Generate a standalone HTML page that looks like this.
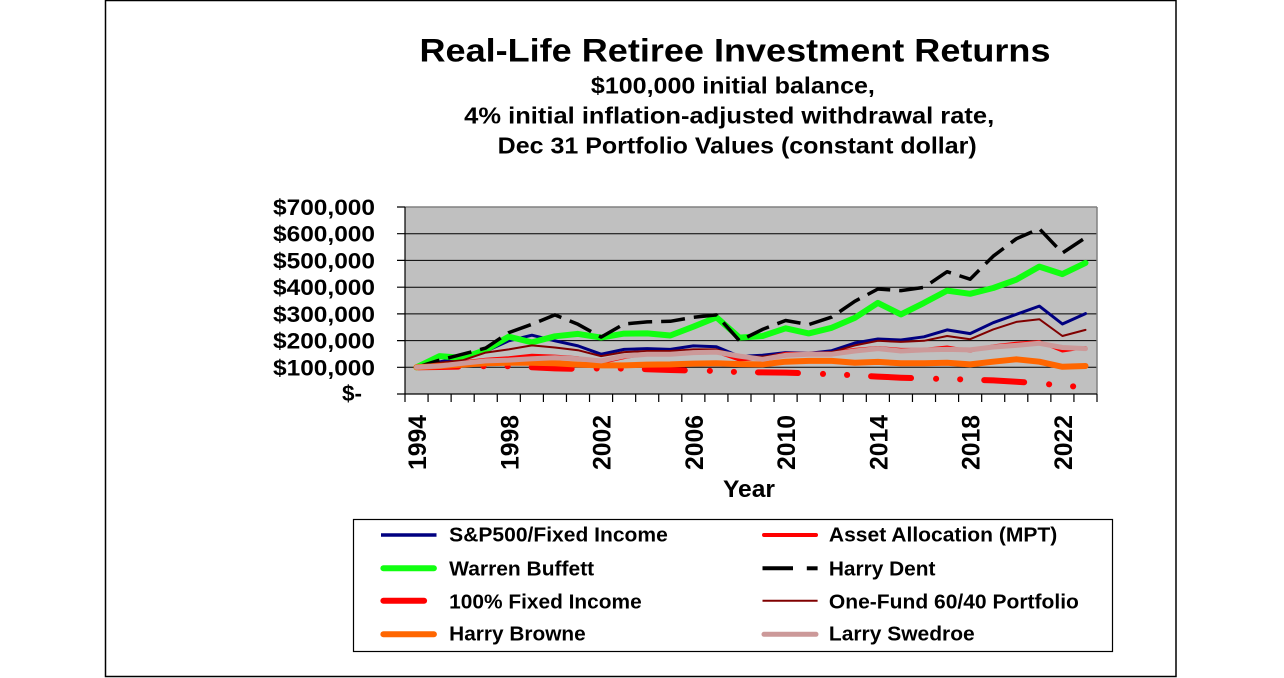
<!DOCTYPE html>
<html>
<head>
<meta charset="utf-8">
<style>
html,body{margin:0;padding:0;background:#fff;}
svg{display:block;}
text{font-family:"Liberation Sans",Arial,sans-serif;font-weight:bold;fill:#000;}
</style>
</head>
<body>
<svg width="1284" height="678" viewBox="0 0 1284 678" xmlns="http://www.w3.org/2000/svg">
<rect x="0" y="0" width="1284" height="678" fill="#fff"/>
<rect x="105.5" y="0.5" width="1070.5" height="676" fill="none" stroke="#000" stroke-width="1.5"/>

<!-- Titles -->
<text x="735" y="61.7" font-size="32.5" text-anchor="middle" textLength="631" lengthAdjust="spacingAndGlyphs">Real-Life Retiree Investment Returns</text>
<text x="732.9" y="93.3" font-size="23" text-anchor="middle" textLength="284" lengthAdjust="spacingAndGlyphs">$100,000 initial balance,</text>
<text x="729.2" y="123.3" font-size="23" text-anchor="middle" textLength="530" lengthAdjust="spacingAndGlyphs">4%  initial inflation-adjusted withdrawal rate,</text>
<text x="737.2" y="153.3" font-size="23" text-anchor="middle" textLength="479" lengthAdjust="spacingAndGlyphs">Dec 31 Portfolio Values (constant dollar)</text>

<!-- Plot area -->
<rect x="405" y="207" width="692" height="187" fill="#c0c0c0"/>
<g stroke="#000" stroke-width="1">
<line x1="405" y1="233.7" x2="1097" y2="233.7"/>
<line x1="405" y1="260.4" x2="1097" y2="260.4"/>
<line x1="405" y1="287.2" x2="1097" y2="287.2"/>
<line x1="405" y1="313.9" x2="1097" y2="313.9"/>
<line x1="405" y1="340.6" x2="1097" y2="340.6"/>
<line x1="405" y1="367.3" x2="1097" y2="367.3"/>
</g>
<line x1="405" y1="207" x2="1097" y2="207" stroke="#808080" stroke-width="1.5"/>
<line x1="1097" y1="207" x2="1097" y2="394" stroke="#808080" stroke-width="1.5"/>
<!-- axes -->
<line x1="405" y1="207" x2="405" y2="394" stroke="#000" stroke-width="1.2"/>
<line x1="397" y1="394" x2="1097" y2="394" stroke="#000" stroke-width="1.2"/>
<path stroke="#000" stroke-width="1.2" fill="none" d="M397 207H405 M397 233.7H405 M397 260.4H405 M397 287.2H405 M397 313.9H405 M397 340.6H405 M397 367.3H405
M405 394V402 M428.07 394V402 M451.13 394V402 M474.2 394V402 M497.27 394V402 M520.33 394V402 M543.4 394V402 M566.47 394V402 M589.53 394V402 M612.6 394V402 M635.67 394V402 M658.73 394V402 M681.8 394V402 M704.87 394V402 M727.93 394V402 M751 394V402 M774.07 394V402 M797.13 394V402 M820.2 394V402 M843.27 394V402 M866.33 394V402 M889.4 394V402 M912.47 394V402 M935.53 394V402 M958.6 394V402 M981.67 394V402 M1004.73 394V402 M1027.8 394V402 M1050.87 394V402 M1073.93 394V402 M1097 394V402"/>

<!-- Y labels -->
<g font-size="22" text-anchor="end">
<text x="375" y="215" textLength="102" lengthAdjust="spacingAndGlyphs">$700,000</text>
<text x="375" y="241.7" textLength="102" lengthAdjust="spacingAndGlyphs">$600,000</text>
<text x="375" y="268.4" textLength="102" lengthAdjust="spacingAndGlyphs">$500,000</text>
<text x="375" y="295.2" textLength="102" lengthAdjust="spacingAndGlyphs">$400,000</text>
<text x="375" y="321.9" textLength="102" lengthAdjust="spacingAndGlyphs">$300,000</text>
<text x="375" y="348.6" textLength="102" lengthAdjust="spacingAndGlyphs">$200,000</text>
<text x="375" y="375.3" textLength="102" lengthAdjust="spacingAndGlyphs">$100,000</text>
<text x="362" y="401" textLength="20" lengthAdjust="spacingAndGlyphs">$-</text>
</g>

<!-- X labels -->
<g font-size="25" text-anchor="end">
<text transform="translate(426,415) rotate(-90)" textLength="55" lengthAdjust="spacingAndGlyphs">1994</text>
<text transform="translate(518.3,415) rotate(-90)" textLength="55" lengthAdjust="spacingAndGlyphs">1998</text>
<text transform="translate(610.6,415) rotate(-90)" textLength="55" lengthAdjust="spacingAndGlyphs">2002</text>
<text transform="translate(702.8,415) rotate(-90)" textLength="55" lengthAdjust="spacingAndGlyphs">2006</text>
<text transform="translate(795.1,415) rotate(-90)" textLength="55" lengthAdjust="spacingAndGlyphs">2010</text>
<text transform="translate(887.4,415) rotate(-90)" textLength="55" lengthAdjust="spacingAndGlyphs">2014</text>
<text transform="translate(979.6,415) rotate(-90)" textLength="55" lengthAdjust="spacingAndGlyphs">2018</text>
<text transform="translate(1071.9,415) rotate(-90)" textLength="55" lengthAdjust="spacingAndGlyphs">2022</text>
</g>
<text x="749" y="497" font-size="24" text-anchor="middle" textLength="52" lengthAdjust="spacingAndGlyphs">Year</text>

<!-- Series -->
<g fill="none" stroke-linejoin="round">
<polyline stroke="#000080" stroke-width="3" stroke-linecap="round" points="416.5,367.3 439.6,361.9 462.6,357.9 485.7,351.3 508.8,340.8 531.9,335.2 554.9,340.8 578,345.9 601.1,354.2 624.1,349.4 647.2,348.6 670.3,349.4 693.3,345.9 716.4,346.7 739.5,356.4 762.5,355.3 785.6,352.6 808.7,353.4 831.7,350.7 854.8,343 877.9,339 900.9,340 924,336.8 947.1,329.9 970.1,333.6 993.2,322.7 1016.3,314.4 1039.3,306.1 1062.4,324 1085.5,313.6"/>
<polyline stroke="#ff0000" stroke-width="3" stroke-linecap="round" points="416.5,367.3 439.6,365.4 462.6,361.9 485.7,359.3 508.8,357.7 531.9,355.3 554.9,356.1 578,357.7 601.1,362.7 624.1,357.7 647.2,353.7 670.3,353.4 693.3,352.1 716.4,352.1 739.5,360.1 762.5,357.7 785.6,353.4 808.7,353.4 831.7,352.6 854.8,349.4 877.9,347.5 900.9,349.4 924,349.4 947.1,347 970.1,351 993.2,345.9 1016.3,343.3 1039.3,341.6 1062.4,351 1085.5,347.5"/>
<polyline stroke="#11ff11" stroke-width="6" stroke-linecap="round" points="416.5,367.3 439.6,356.1 462.6,357.9 485.7,349.9 508.8,336.6 531.9,342.4 554.9,336.3 578,333.9 601.1,337.6 624.1,333.6 647.2,333.4 670.3,335.5 693.3,326.7 716.4,317.3 739.5,337.6 762.5,336 785.6,328.3 808.7,333.4 831.7,327.8 854.8,317.9 877.9,302.9 900.9,314.4 924,302.9 947.1,290.6 970.1,293.8 993.2,288 1016.3,279.7 1039.3,266.6 1062.4,274.1 1085.5,262.9"/>
<polyline stroke="#000" stroke-width="3.5" stroke-linecap="butt" stroke-dasharray="24 9" points="416.5,367.3 439.6,360.1 462.6,354.2 485.7,348.1 508.8,332.6 531.9,324.3 554.9,314.9 578,324.3 601.1,337.1 624.1,324 647.2,321.9 670.3,321.3 693.3,317.3 716.4,314.9 739.5,340.8 762.5,329.4 785.6,320.5 808.7,324.6 831.7,317.1 854.8,301.3 877.9,289 900.9,290.6 924,287.4 947.1,271.7 970.1,279.2 993.2,256.2 1016.3,238.8 1039.3,228.7 1062.4,253 1085.5,237.7"/>
<polyline stroke="#ff0000" stroke-width="6" stroke-linecap="round" stroke-dasharray="40 25 0.1 24 0.1 24" stroke-dashoffset="-2" points="416.5,367.3 439.6,367 462.6,366.5 485.7,366.2 508.8,366.2 531.9,367.3 554.9,368.4 578,368.9 601.1,368.4 624.1,368.6 647.2,369.2 670.3,370 693.3,370.5 716.4,371 739.5,372.1 762.5,372.4 785.6,372.6 808.7,373.4 831.7,374.2 854.8,375.3 877.9,376.6 900.9,377.7 924,378.5 947.1,379 970.1,379.6 993.2,380.4 1016.3,381.7 1039.3,383.3 1062.4,385.7 1085.5,387.1"/>
<polyline stroke="#800000" stroke-width="2" stroke-linecap="round" points="416.5,367.3 439.6,362.7 462.6,360.3 485.7,352.6 508.8,349.4 531.9,345.4 554.9,347.5 578,350.2 601.1,356.1 624.1,352.1 647.2,351 670.3,351 693.3,349.4 716.4,349.4 739.5,356.1 762.5,356.6 785.6,353.7 808.7,353.7 831.7,352.1 854.8,345.4 877.9,340.8 900.9,341.9 924,340.8 947.1,336 970.1,339.2 993.2,329.4 1016.3,321.9 1039.3,319.2 1062.4,336 1085.5,329.9"/>
<polyline stroke="#ff6600" stroke-width="6" stroke-linecap="round" points="416.5,367.3 439.6,366 462.6,364.6 485.7,363.3 508.8,362.7 531.9,362.7 554.9,363.3 578,364.6 601.1,365.4 624.1,365.4 647.2,364.6 670.3,364.4 693.3,363.6 716.4,363.3 739.5,364.1 762.5,364.4 785.6,361.7 808.7,360.9 831.7,360.9 854.8,362.7 877.9,361.9 900.9,363.3 924,363.3 947.1,362.7 970.1,364.4 993.2,361.7 1016.3,359.3 1039.3,361.7 1062.4,366.8 1085.5,366"/>
<polyline stroke="#cc9999" stroke-width="5" stroke-linecap="round" points="416.5,367.3 439.6,366 462.6,363.3 485.7,360.9 508.8,360.1 531.9,358.7 554.9,357.7 578,358.7 601.1,360.9 624.1,356.1 647.2,354.2 670.3,354.2 693.3,352.6 716.4,352.1 739.5,356.1 762.5,359.3 785.6,355.3 808.7,354.2 831.7,354.2 854.8,351 877.9,348.6 900.9,351 924,349.9 947.1,349.4 970.1,349.9 993.2,347 1016.3,345.4 1039.3,343.3 1062.4,347.5 1085.5,348.6"/>
</g>

<!-- Legend -->
<rect x="353.5" y="519.5" width="759" height="132" fill="#fff" stroke="#000" stroke-width="1.2"/>
<g fill="none">
<line x1="381" y1="535" x2="436.5" y2="535" stroke="#000080" stroke-width="3.5"/>
<line x1="383.4" y1="568.3" x2="433.9" y2="568.3" stroke="#11ff11" stroke-width="6" stroke-linecap="round"/>
<line x1="383.4" y1="600.7" x2="424.1" y2="600.7" stroke="#ff0000" stroke-width="6" stroke-linecap="round"/>
<line x1="383.4" y1="634.3" x2="433.9" y2="634.3" stroke="#ff6600" stroke-width="6" stroke-linecap="round"/>
<line x1="764" y1="535" x2="816" y2="535" stroke="#ff0000" stroke-width="4" stroke-linecap="round"/>
<line x1="762.5" y1="568.3" x2="793" y2="568.3" stroke="#000" stroke-width="4"/>
<line x1="806.8" y1="568.3" x2="817.6" y2="568.3" stroke="#000" stroke-width="4"/>
<line x1="762.5" y1="600.7" x2="817.6" y2="600.7" stroke="#800000" stroke-width="2"/>
<line x1="764" y1="634.3" x2="816" y2="634.3" stroke="#cc9999" stroke-width="5" stroke-linecap="round"/>
</g>
<g font-size="20.5">
<text x="449.2" y="541.7" textLength="218.6" lengthAdjust="spacingAndGlyphs">S&amp;P500/Fixed Income</text>
<text x="449.2" y="575.7" textLength="145" lengthAdjust="spacingAndGlyphs">Warren Buffett</text>
<text x="449.2" y="608.3" textLength="192.5" lengthAdjust="spacingAndGlyphs">100% Fixed Income</text>
<text x="449.2" y="640.7" textLength="136.5" lengthAdjust="spacingAndGlyphs">Harry Browne</text>
<text x="828.9" y="541.7" textLength="228.4" lengthAdjust="spacingAndGlyphs">Asset Allocation (MPT)</text>
<text x="828.9" y="575.7" textLength="106.5" lengthAdjust="spacingAndGlyphs">Harry Dent</text>
<text x="828.9" y="608.3" textLength="250" lengthAdjust="spacingAndGlyphs">One-Fund 60/40 Portfolio</text>
<text x="828.9" y="640.7" textLength="145.8" lengthAdjust="spacingAndGlyphs">Larry Swedroe</text>
</g>
</svg>
</body>
</html>
